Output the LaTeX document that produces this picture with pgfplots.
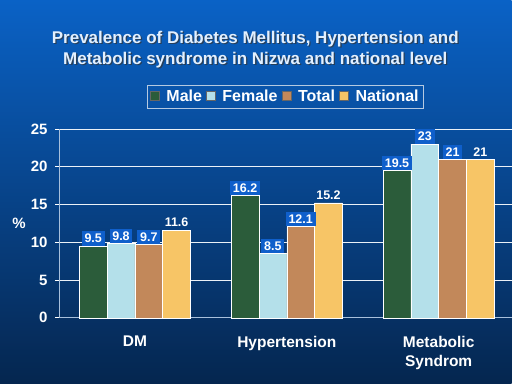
\documentclass[border=0pt]{standalone}
\usepackage{pgfplots}
\pgfplotsset{compat=1.18}
\usepackage{fontspec}
\setmainfont{Liberation Sans}
\definecolor{bgtop}{HTML}{0A62C6}
\definecolor{bgmid}{HTML}{074C9C}
\definecolor{bgbot}{HTML}{05264F}
\definecolor{cmale}{HTML}{2B5C3A}
\definecolor{cfemale}{HTML}{B4E0EA}
\definecolor{ctotal}{HTML}{C2885A}
\definecolor{cnat}{HTML}{F7C566}
\definecolor{lblue}{HTML}{0F5FCB}
\definecolor{titlec}{HTML}{E2F0FF}
\begin{document}
\begin{tikzpicture}[x=1pt,y=1pt]
\shade[top color=bgtop, middle color=bgmid, bottom color=bgbot] (0,0) rectangle (512,384);
% title with shadow
\node[font=\bfseries\fontsize{17}{21}\selectfont, text=black!80, align=center, opacity=0.7] at (256.8,333.3) {Prevalence of Diabetes Mellitus, Hypertension and\\Metabolic syndrome in Nizwa and national level};
\node[font=\bfseries\fontsize{17}{21}\selectfont, text=titlec, align=center] at (255.5,334.5) {Prevalence of Diabetes Mellitus, Hypertension and\\Metabolic syndrome in Nizwa and national level};
\begin{axis}[
  at={(59pt,66pt)}, anchor=south west, scale only axis,
  width=453pt, height=189pt,
  xmin=-0.5, xmax=2.48, ymin=0, ymax=25,
  ybar=0pt, bar width=27.8pt,
  axis x line*=bottom, axis y line*=left,
  axis line style={draw=white!65!bgmid, line width=0.7pt, -},
  xtick={0,1,2},
  xticklabels={DM, Hypertension, {Metabolic\\Syndrom}},
  x tick label style={align=center, font=\bfseries\fontsize{15.5}{19}\selectfont, text=white, yshift=-11pt},
  major x tick style={draw=none},
  extra x ticks={0.5,1.5}, extra x tick labels={},
  extra x tick style={major tick length=4pt, tick align=outside, tick style={draw=white!80, line width=0.7pt}},
  ytick={0,5,...,25},
  y tick label style={font=\bfseries\fontsize{15}{18}\selectfont, text=white, xshift=-4pt},
  ytick style={draw=white!90, line width=0.7pt},
  tick align=outside, major tick length=4pt,
  ymajorgrids, major grid style={draw=white!92!bgmid, line width=0.8pt},
  /pgf/number format/assume math mode=true,
  legend columns=4,
  legend style={at={(0.5,1.172)}, anchor=center, fill=none, draw=white!70!bgmid, line width=0.6pt,
    text=white, font=\bfseries\fontsize{16}{18}\selectfont, inner xsep=3pt, inner ysep=3pt,
    /tikz/every even column/.append style={column sep=2pt},
    /tikz/every odd column/.append style={column sep=5pt}},
  legend image code/.code={\draw[#1, draw=black!60] (0pt,-4pt) rectangle (9pt,5pt);},
  every node near coord/.append style={font=\bfseries\fontsize{12.5}{14}\selectfont, text=white, inner sep=2.8pt},
  clip=false,
]
\addplot+[fill=cmale, draw=white!85, line width=0.5pt, nodes near coords,
  every node near coord/.append style={fill=lblue}]
  coordinates {(0,9.5) (1,16.2) (2,19.5)};
\addplot+[fill=cfemale, draw=white!85, line width=0.5pt, nodes near coords,
  every node near coord/.append style={fill=lblue}]
  coordinates {(0,9.8) (1,8.5) (2,23)};
\addplot+[fill=ctotal, draw=white!85, line width=0.5pt, nodes near coords,
  every node near coord/.append style={fill=lblue}]
  coordinates {(0,9.7) (1,12.1) (2,21)};
\addplot+[fill=cnat, draw=white!85, line width=0.5pt, nodes near coords]
  coordinates {(0,11.6) (1,15.2) (2,21)};
\legend{Male, Female, Total, National}
\end{axis}
\node[font=\bfseries\fontsize{15}{18}\selectfont, text=white] at (19,160) {\%};
\end{tikzpicture}
\end{document}
